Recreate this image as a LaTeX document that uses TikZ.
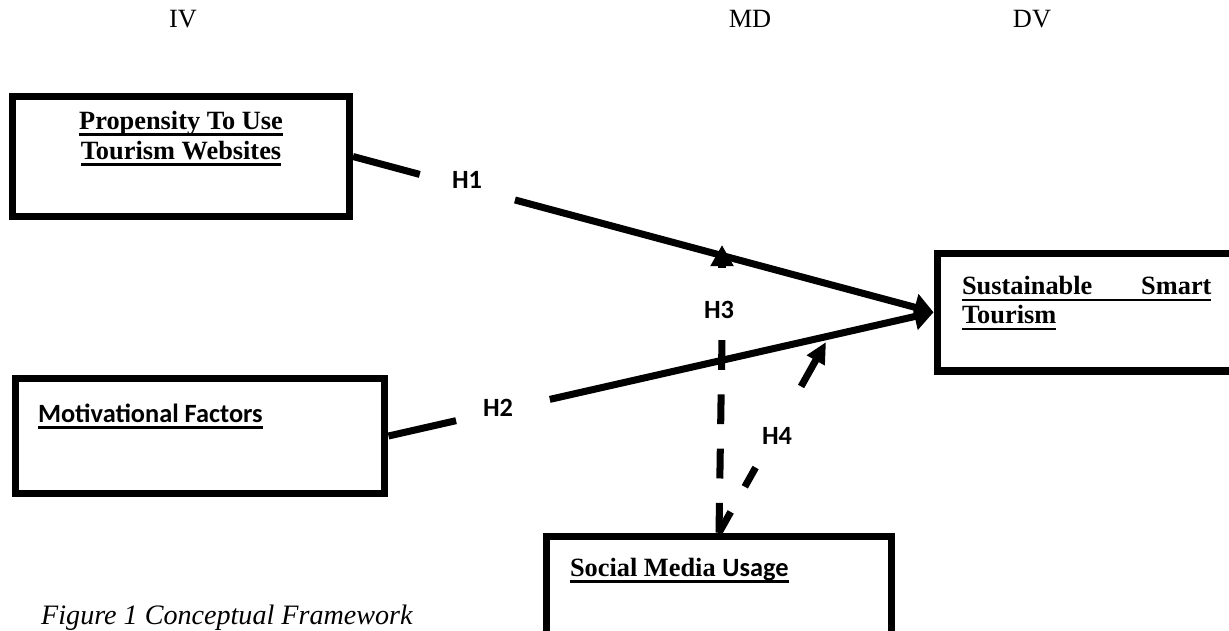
\documentclass[tikz,border=0pt]{standalone}
\usepackage{fontspec}
\setmainfont{Liberation Serif}
\newfontfamily\calib{Carlito}
\usetikzlibrary{arrows.meta,calc}
\newcommand\undl[1]{\leavevmode\setbox0\hbox{#1}\rlap{\rule[-3.5pt]{\wd0}{1.4pt}}\box0}
\tikzset{
  box/.style={draw, line width=4pt, inner sep=0pt},
  link/.style={line width=4pt},
  hyp/.style={font=\calib\bfseries\fontsize{15}{17}\selectfont, inner sep=0pt},
  bigtip/.style={-{Triangle[length=11pt,width=15pt]}},
}
\begin{document}
\begin{tikzpicture}[x=0.02cm,y=-0.02cm]
    \useasboundingbox (0,0) rectangle (1229,630);% one unit = one pixel of the reference
    \foreach \x/\t in {183/IV,750/MD,1032/DV}% column heads
      \node[anchor=base, font=\fontsize{15}{17}\selectfont] (head\t) at (\x,27) {\t};
    % the four variables
    \node[box] (prop) at (181,156.5) {\parbox[c][2.4cm][t]{6.74cm}{\centering
        \bfseries\fontsize{15}{17}\selectfont\vspace*{7pt}%
        \strut\undl{Propensity To Use}\\\undl{Tourism Websites}}};
    \node[box] (mot) at (200,436) {\parbox[c][2.3cm][t]{7.4cm}{%
        \calib\bfseries\fontsize{15}{17}\selectfont\vspace*{13.3pt}%
        \hspace*{0.46cm}\strut\undl{Motivational Factors}}};
    \node[box] (sst) at (1088.5,312.25) {\parbox[c][2.35cm][t]{6.06cm}{%
        \bfseries\fontsize{15}{16.5}\selectfont\vspace*{12pt}%
        \hspace*{0.5cm}\strut\undl{\makebox[4.99cm][s]{Sustainable Smart}}\\
        \hspace*{0.5cm}\undl{Tourism}}};
    \node[box] (sm) at (719,593) {\parbox[c][2.27cm][t]{6.9cm}{%
        \bfseries\fontsize{15}{17}\selectfont\vspace*{11.1pt}%
        \hspace*{0.47cm}\strut\undl{Social Media {\calib Usage}}}};
    % H1 and H2, broken where their labels sit
    \coordinate (h1a) at ($(prop.east)!0.115!(sst.west)$);
    \coordinate (h1b) at ($(prop.east)!0.279!(sst.west)$);
    \draw[link] (prop.east) -- (h1a);
    \draw[link,bigtip] (h1b) -- (sst.west);
    \node[hyp] (h1) at (467,180) {H1};
    \coordinate (h2a) at ($(mot.east)!0.124!(sst.west)$);
    \coordinate (h2b) at ($(mot.east)!0.296!(sst.west)$);
    \draw[link] (mot.east) -- (h2a);
    \draw[link,bigtip] (h2b) -- (sst.west);
    \node[hyp] (h2) at (498,408) {H2};
    % H3, moderator up to the H1 path
    \coordinate (h3a) at (722,338);
    \coordinate (h3b) at (722,268);
    \coordinate (h3tip) at (722,245);
    \draw[link, dash pattern=on 17pt off 13.9pt] (sm.north) -- (h3a);
    \draw[link,-{Triangle[length=12pt,width=12.5pt]}] (h3b) -- (h3tip);
    \node[hyp] (h3) at (719,310) {H3};
    % H4, moderator up to the H2 path
    \coordinate (h4tip) at (826,342);
    \coordinate (h4a) at ($(sm.north)!0.342!(h4tip)$);
    \coordinate (h4b) at ($(sm.north)!0.767!(h4tip)$);
    \draw[link, dash pattern=on 13.6pt off 16.4pt] (sm.north) -- (h4a);
    \draw[link,-{Triangle[length=12pt,width=11pt]}] (h4b) -- (h4tip);
    \node[hyp] (h4) at (777,435.5) {H4};
    \node[anchor=base west, font=\itshape\fontsize{16}{18}\selectfont] (cap)
        at (35,624) {Figure 1 Conceptual Framework};
\end{tikzpicture}
\end{document}
